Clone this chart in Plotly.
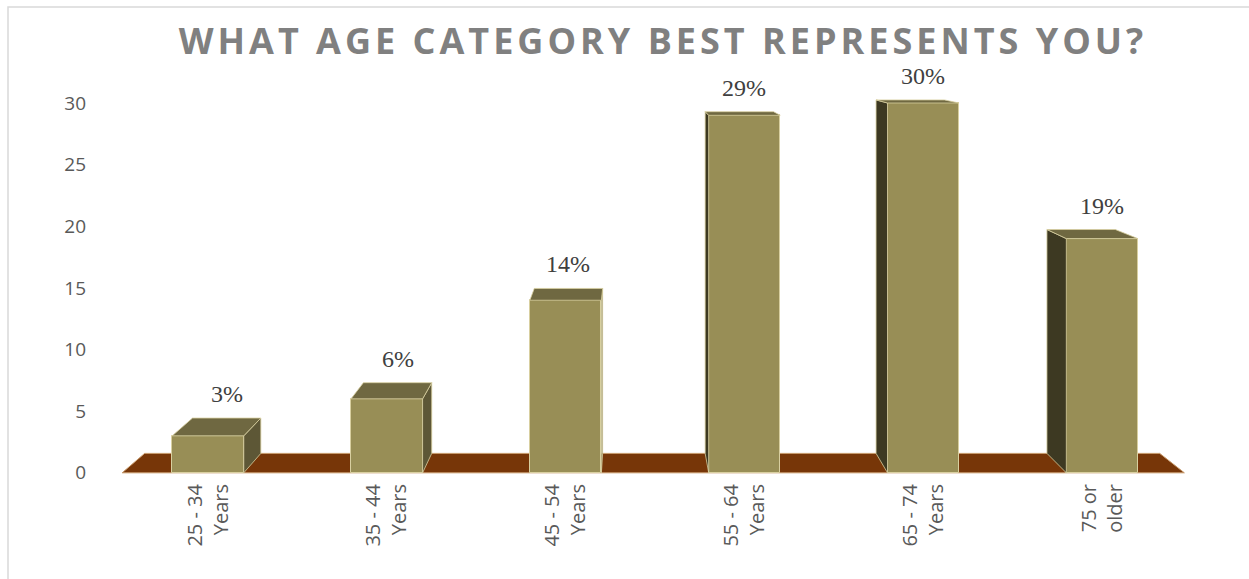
import plotly.graph_objects as go

# Survey answers: share of respondents per age bracket (percent)
categories = ["25 - 34<br>Years", "35 - 44<br>Years", "45 - 54<br>Years",
              "55 - 64<br>Years", "65 - 74<br>Years", "75 or<br>older"]
percent = [3, 6, 14, 29, 30, 19]
y_ticks = [0, 5, 10, 15, 20, 25, 30]

positions = list(range(len(categories)))

# Pseudo-3D look: every back edge is pulled toward a vanishing point
BAR_W = 0.40
DEPTH = 0.0443
VANISH = (2.355, 35.6)
FLOOR_SPAN = (-0.48, 5.46)

FRONT = "#988E56"
TOP = "#6F6841"
SIDE_RIGHT = "#5D5736"
SIDE_LEFT = "#3D3922"
EDGE = "#D8CFA0"
FLOOR = "#773608"


def recede(x, y):
    return x + DEPTH * (VANISH[0] - x), y + DEPTH * (VANISH[1] - y)


def polygon(pts, fill, edge=EDGE, width=0.8):
    xs = [p[0] for p in pts] + [pts[0][0]]
    ys = [p[1] for p in pts] + [pts[0][1]]
    return go.Scatter(x=xs, y=ys, mode="lines", fill="toself", fillcolor=fill,
                      line=dict(color=edge, width=width), hoverinfo="skip",
                      showlegend=False)


fig = go.Figure()

# floor plate, kept beneath all traces
f0, f1 = FLOOR_SPAN
floor_pts = [(f0, 0), (f1, 0), recede(f1, 0), recede(f0, 0)]
floor_path = "M " + " L ".join(f"{x},{y}" for x, y in floor_pts) + " Z"
fig.add_shape(type="path", path=floor_path, xref="x", yref="y",
              fillcolor=FLOOR, line=dict(color="#C89A6A", width=1), layer="below")

# side and top faces of each column
for p, v in zip(positions, percent):
    xl, xr = p - BAR_W / 2, p + BAR_W / 2
    if VANISH[0] > xr:
        xs, col = xr, SIDE_RIGHT
    elif VANISH[0] < xl:
        xs, col = xl, SIDE_LEFT
    else:
        xs = None
    if xs is not None:
        fig.add_trace(polygon([(xs, 0), (xs, v), recede(xs, v), recede(xs, 0)], col))
    fig.add_trace(polygon([(xl, v), (xr, v), recede(xr, v), recede(xl, v)], TOP))

# front faces
fig.add_trace(go.Bar(x=positions, y=percent, width=BAR_W,
                     marker=dict(color=FRONT, line=dict(color=EDGE, width=1)),
                     hoverinfo="skip", showlegend=False))

# value labels above each column
for p, v in zip(positions, percent):
    bx, by = recede(p, v)
    fig.add_annotation(x=max(p, bx), y=by, text=f"{v}%", showarrow=False, yshift=24,
                       font=dict(family="Liberation Serif", size=24, color="#404040"))

L, R, T, B = 95, 50, 66, 100
W, H = 1249, 579
pw, ph = W - L - R, H - T - B

# outer chart frame
fig.add_shape(type="rect", xref="paper", yref="paper",
              x0=(8 - L) / pw, x1=(1262 - L) / pw,
              y0=(H - B - 592) / ph, y1=(H - B - 7) / ph,
              line=dict(color="#D9D9D9", width=1.5), fillcolor="rgba(0,0,0,0)",
              layer="below")

fig.update_layout(
    width=W, height=H,
    margin=dict(l=L, r=R, t=T, b=B),
    paper_bgcolor="white", plot_bgcolor="white",
    title=dict(text="<b>WHAT AGE CATEGORY BEST REPRESENTS YOU?</b>",
               x=663 / W, xanchor="center", xref="container",
               y=1 - 41 / H, yanchor="middle", yref="container",
               font=dict(family="Open Sans", size=36, color="#808080")),
    xaxis=dict(range=[-0.632, 5.542], tickmode="array", tickvals=positions,
               ticktext=categories, tickangle=-90, showgrid=False,
               zeroline=False, showline=False, ticks="",
               tickfont=dict(family="Open Sans", size=20, color="#595959")),
    yaxis=dict(range=[-0.5, 33], tickmode="array", tickvals=y_ticks,
               showgrid=False, zeroline=False, showline=False, ticks="",
               ticklabelstandoff=8,
               tickfont=dict(family="Open Sans", size=19, color="#595959")),
    bargap=0,
)

# widen the title's letter spacing once the plot is drawn
spacing_js = ("document.querySelectorAll('.gtitle').forEach(function(t)"
              "{t.style.letterSpacing='4px';});")

fig.write_html("out.html", post_script=spacing_js)
